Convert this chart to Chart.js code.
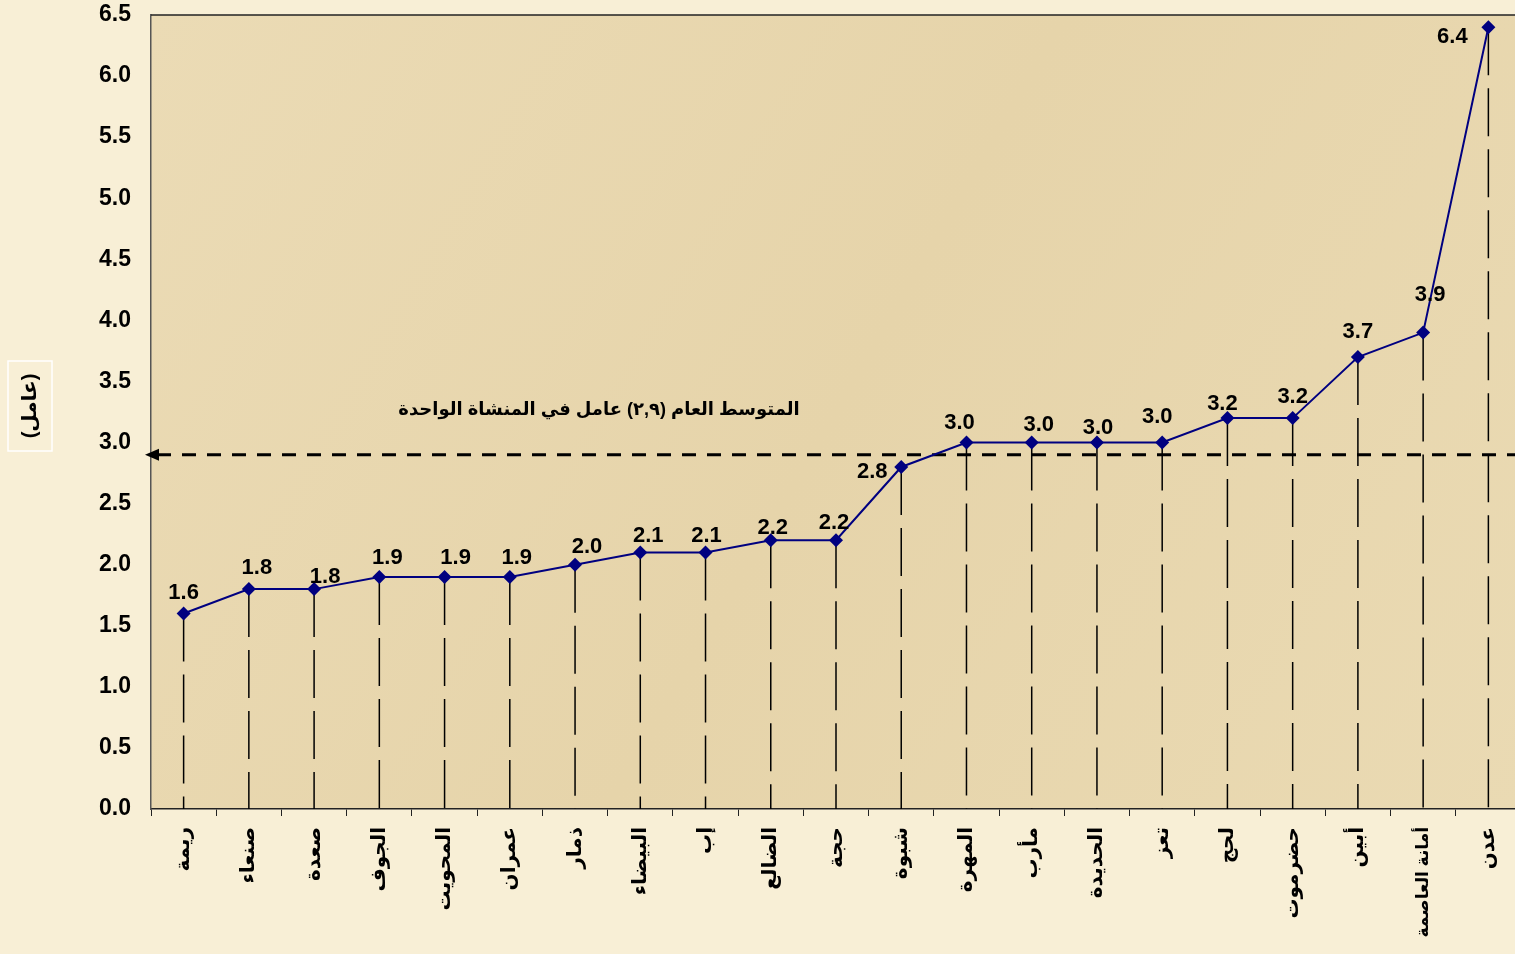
<!DOCTYPE html>
<html>
<head>
<meta charset="utf-8">
<script src="https://cdn.jsdelivr.net/npm/chart.js@4.4.1/dist/chart.umd.min.js"></script>
<style>
  html, body { margin:0; padding:0; overflow:hidden; background:#f8efd6; }
  #wrap { width:1528px; height:954px; }
</style>
</head>
<body>
<div id="wrap"><canvas id="c" width="1528" height="954"></canvas></div>
<script>
// ====== data ======
const governorates = ["ريمة","صنعاء","صعدة","الجوف","المحويت","عمران","ذمار","البيضاء","إب","الضالع","حجة",
  "شبوة","المهرة","مأرب","الحديدة","تعز","لحج","حضرموت","أبين","أمانة العاصمة","عدن"];
const workersPerUnit = [1.6,1.8,1.8,1.9,1.9,1.9,2.0,2.1,2.1,2.2,2.2,2.8,3.0,3.0,3.0,3.0,3.2,3.2,3.7,3.9,6.4];
const overallAverage = 2.9;
const avgNote = "المتوسط العام (٢,٩) عامل في المنشاة الواحدة";
const yTitle = "(عامل)";

// label nudges (px) so value labels sit like the original
const labelShift = [[0,-21],[8,-21],[11,-12],[8,-19],[11,-19],[7,-19],[12,-18],[8,-17],[1,-17],[2,-12],[-2,-17],
  [-29,5],[-7,-20],[7,-18],[1,-15],[-5,-26],[-5,-14],[0,-21],[0,-25],[7,-38],[-36,10]];

const FONT = "'Liberation Sans', Arial, 'DejaVu Sans', sans-serif";

// ====== plugin: background, drop lines, mean line, labels ======
const decor = {
  id: "decor",
  beforeDraw(chart) {
    const { ctx, chartArea: a } = chart;
    ctx.save();
    const g = ctx.createLinearGradient(a.left, a.top, a.right, a.bottom);
    g.addColorStop(0, "#ebdbb5");
    g.addColorStop(0.5, "#e6d4aa");
    g.addColorStop(1, "#eadab3");
    ctx.fillStyle = g;
    ctx.fillRect(a.left, a.top, a.right - a.left, a.bottom - a.top);
    ctx.restore();
  },
  beforeDatasetsDraw(chart) {
    const { ctx, chartArea: a, scales: { y } } = chart;
    const meta = chart.getDatasetMeta(0);
    ctx.save();
    // drop lines
    ctx.strokeStyle = "#000";
    ctx.lineWidth = 1.5;
    ctx.setLineDash([48, 13]);
    meta.data.forEach(p => {
      ctx.beginPath();
      ctx.moveTo(p.x, p.y);
      ctx.lineTo(p.x, a.bottom);
      ctx.stroke();
    });
    // mean line
    const ym = y.getPixelForValue(overallAverage);
    ctx.lineWidth = 3;
    ctx.setLineDash([14, 11]);
    ctx.beginPath();
    ctx.moveTo(a.right, ym);
    ctx.lineTo(a.left + 4, ym);
    ctx.stroke();
    ctx.setLineDash([]);
    ctx.fillStyle = "#000";
    ctx.beginPath();
    ctx.moveTo(a.left - 6, ym);
    ctx.lineTo(a.left + 8, ym - 6);
    ctx.lineTo(a.left + 8, ym + 6);
    ctx.closePath();
    ctx.fill();
    // note text
    ctx.font = "bold 18px " + FONT;
    ctx.textAlign = "center";
    ctx.textBaseline = "middle";
    ctx.fillText(avgNote, 599, 410);
    ctx.restore();
  },
  afterDraw(chart) {
    const { ctx, chartArea: a } = chart;
    const meta = chart.getDatasetMeta(0);
    ctx.save();
    // plot frame
    ctx.strokeStyle = "#222";
    ctx.lineWidth = 1.5;
    ctx.beginPath();
    ctx.moveTo(a.left, a.top);
    ctx.lineTo(a.right, a.top);
    ctx.stroke();
    // value labels
    ctx.fillStyle = "#000";
    ctx.font = "bold 22px " + FONT;
    ctx.textAlign = "center";
    ctx.textBaseline = "middle";
    meta.data.forEach((p, i) => {
      const s = labelShift[i] || [0, -20];
      ctx.fillText(workersPerUnit[i].toFixed(1), p.x + s[0], p.y + s[1]);
    });
    // y title with white box
    ctx.translate(30, 406);
    ctx.rotate(-Math.PI / 2);
    ctx.strokeStyle = "#fff";
    ctx.lineWidth = 1.5;
    ctx.strokeRect(-45, -22, 90, 44);
    ctx.font = "bold 20px " + FONT;
    ctx.fillText(yTitle, 0, 0);
    ctx.restore();
  }
};

new Chart(document.getElementById("c"), {
  type: "line",
  data: {
    labels: governorates,
    datasets: [{
      data: workersPerUnit,
      borderColor: "#000080",
      borderWidth: 2,
      backgroundColor: "#000080",
      pointStyle: "rectRot",
      pointRadius: 7,
      pointBorderWidth: 0,
      tension: 0
    }]
  },
  options: {
    responsive: false,
    animation: false,
    layout: { padding: { top: 15, right: 0, left: 0, bottom: 0 } },
    plugins: { legend: { display: false }, tooltip: { enabled: false } },
    scales: {
      x: {
        offset: true,
        afterFit: s => { s.height = 145; s.paddingLeft = 0; s.paddingRight = 0; },
        grid: { display: true, drawOnChartArea: false, drawTicks: true, tickLength: 7, color: "#222", offset: true },
        border: { display: true, color: "#222", width: 1.5 },
        ticks: {
          minRotation: 90, maxRotation: 90, padding: 11, autoSkip: false, color: "#000",
          // the long two-word label is squeezed a little so it fits like the original
          font: ctx => ({ family: FONT, size: (governorates[ctx.index] || "").length > 10 ? 17 : 20, weight: "bold" })
        }
      },
      y: {
        min: 0, max: 6.5,
        afterFit: s => { s.width = 151; s.paddingTop = 0; s.paddingBottom = 0; },
        grid: { display: false, drawTicks: false },
        border: { display: true, color: "#555", width: 1.5 },
        ticks: {
          stepSize: 0.5, padding: 20, color: "#000",
          font: { family: FONT, size: 23, weight: "bold" },
          callback: v => Number(v).toFixed(1)
        }
      }
    }
  },
  plugins: [decor]
});
</script>
</body>
</html>
